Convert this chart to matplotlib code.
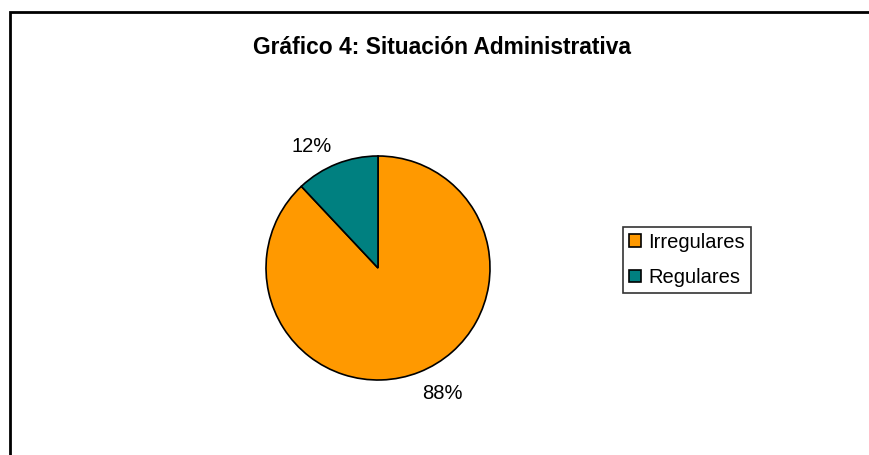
import matplotlib
matplotlib.use("Agg")
import matplotlib.pyplot as plt
from matplotlib.patches import Rectangle

categories = ["Irregulares", "Regulares"]
values = [88, 12]
colors = ["#FF9900", "#008080"]
title = "Gráfico 4: Situación Administrativa"

plt.rcParams['font.family'] = ['Liberation Sans', 'DejaVu Sans']

W, H = 869, 455
fig = plt.figure(figsize=(W/100, H/100), dpi=100)

# outer frame (cropped at right and bottom)
fig.patches.append(Rectangle((10/W, -0.1), 1.2, (H-12)/H + 0.1, transform=fig.transFigure,
                             fill=False, edgecolor="black", linewidth=2))

cx, cy, r = 378, 268, 112
ax = fig.add_axes([(cx-r)/W, (H-cy-r)/H, 2*r/W, 2*r/H])
wedges, texts, autotexts = ax.pie(values, colors=colors, startangle=90, counterclock=False,
                                  autopct=lambda p: f"{p:.0f}%", pctdistance=1.25,
                                  wedgeprops=dict(edgecolor="black", linewidth=1.2),
                                  textprops=dict(fontsize=14.5, color="black"))
ax.set_xlim(-1, 1)
ax.set_ylim(-1, 1)
ax.set_aspect("equal")
ax.axis("off")
# Excel-style label placement
label_pos = [(0.571, -1.125), (-0.589, 1.089)]
for t, p in zip(autotexts, label_pos):
    t.set_position(p)
    t.set_clip_on(False)

fig.text(442/W, 1-47/H, title, ha="center", va="center", fontsize=16.4, fontweight="bold")

leg = fig.legend(wedges, categories, loc="center", bbox_to_anchor=(687/W, 1-260/H),
                 fontsize=14.5, frameon=True, fancybox=False, edgecolor="black",
                 handlelength=0.6, handleheight=0.6, handletextpad=0.35,
                 borderpad=0.3, labelspacing=0.8, borderaxespad=0)
leg.get_frame().set_linewidth(1.2)

fig.savefig("out.png", dpi=100)
